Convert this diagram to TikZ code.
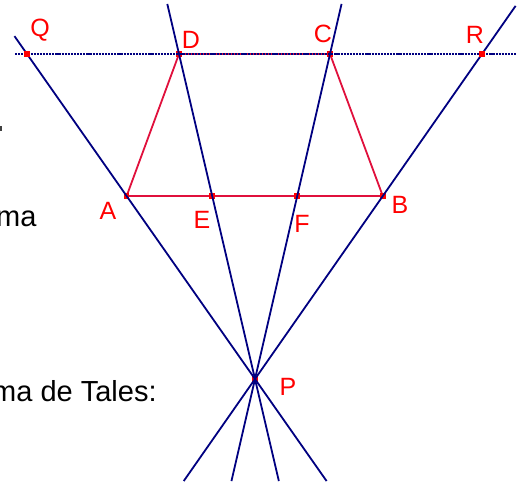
\documentclass[tikz,border=0pt]{standalone}
\usepackage{fontspec}
\setmainfont{Liberation Sans}
\usetikzlibrary{calc}
\definecolor{navyline}{HTML}{000080}
\definecolor{segred}{HTML}{E0103C}
\definecolor{labred}{HTML}{FF0000}
\tikzset{
  blueline/.style={navyline, line width=1.8pt},
  dotline/.style={navyline, line width=1.8pt, dash pattern=on 2.2pt off 0.9pt},
  redseg/.style={segred, line width=1.8pt},
  ptmark/.style={fill=labred, draw=none, minimum size=5.5pt, inner sep=0pt, rectangle},
  lab/.style={labred, font=\fontsize{25}{29}\selectfont, anchor=base, inner sep=0pt},
  bodytext/.style={black, font=\fontsize{29}{34}\selectfont, anchor=base west, inner sep=0pt}
}
\begin{document}
\begin{tikzpicture}[x=1pt,y=-1pt]
\useasboundingbox (0,0) rectangle (525,484);
% points
\coordinate (P) at (255,379);
\coordinate (D) at (179,54);
\coordinate (C) at (330,54);
\coordinate (Q) at (27,54);
\coordinate (R) at (482,54);
\coordinate (A) at ($(P)!0.563!(Q)$);
\coordinate (B) at ($(P)!0.563!(R)$);
\coordinate (E) at ($(P)!0.563!(D)$);
\coordinate (F) at ($(P)!0.563!(C)$);
% line ends
\coordinate (Qtop) at ($(P)!1.055!(Q)$);
\coordinate (Qbot) at ($(P)!-0.314!(Q)$);
\coordinate (Rtop) at ($(P)!1.148!(R)$);
\coordinate (Rbot) at ($(P)!-0.314!(R)$);
\coordinate (Dtop) at ($(P)!1.154!(D)$);
\coordinate (Dbot) at ($(P)!-0.314!(D)$);
\coordinate (Ctop) at ($(P)!1.154!(C)$);
\coordinate (Cbot) at ($(P)!-0.314!(C)$);
\coordinate (Hleft) at (15,54);
\coordinate (Hright) at (517,54);
% red trapezoid
\draw[redseg] (A) -- (D) -- (C) -- (B) -- (A);
% markers
\foreach \p in {A,B,E,F,Q,R,P,D,C} \node[ptmark] (m\p) at (\p) {};
% blue lines
\draw[blueline] (Qtop) -- (Qbot);
\draw[blueline] (Rtop) -- (Rbot);
\draw[blueline] (Dtop) -- (Dbot);
\draw[blueline] (Ctop) -- (Cbot);
\draw[dotline] (Hleft) -- (Hright);
\node[ptmark] at (Q) {};
\node[ptmark] at (R) {};
% labels
\node[lab] (lQ) at (40,37) {Q};
\node[lab] (lD) at (191,49) {D};
\node[lab] (lC) at (323,43) {C};
\node[lab] (lR) at (475,44) {R};
\node[lab] (lA) at (108,219) {A};
\node[lab] (lE) at (202,229) {E};
\node[lab] (lF) at (302,232) {F};
\node[lab] (lB) at (400,213) {B};
\node[lab] (lP) at (288,395) {P};
% partial text at left edge
\fill[black!75] (0,126) rectangle (2,131);
\node[bodytext] (t1) at (-4,226) {ma};
\node[bodytext] (t2) at (-8,401) {ma de Tales:};
\end{tikzpicture}
\end{document}
